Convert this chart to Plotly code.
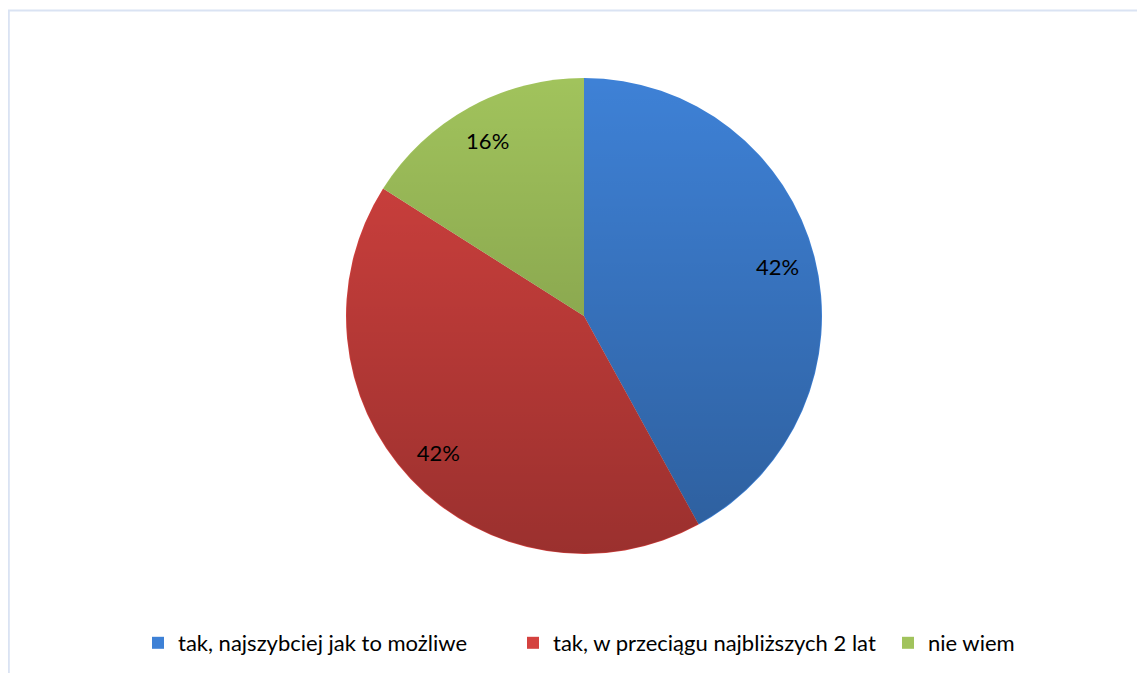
import base64
import plotly.graph_objects as go

labels = ["tak, najszybciej jak to możliwe", "tak, w przeciągu najbliższych 2 lat", "nie wiem"]
values = [42, 42, 16]
colors = ["#3e81d6", "#d4423f", "#a1c35c"]

W, H = 1145, 673
FONT = "Lato, Open Sans, sans-serif"
dom = dict(x=[338 / W, 814 / W], y=[1 - 546 / H, 1 - 70 / H])

fig = go.Figure()
# coloured pie
fig.add_trace(go.Pie(
    labels=labels, values=values, sort=False, direction="clockwise", rotation=0,
    marker=dict(colors=colors, line=dict(width=0)),
    textinfo="none", domain=dom, hoverinfo="label+percent",
))
# transparent ring carrying the percentage labels near the rim
fig.add_trace(go.Pie(
    labels=labels, values=values, sort=False, direction="clockwise", rotation=0,
    hole=0.68, showlegend=False,
    marker=dict(colors=["rgba(0,0,0,0)"] * len(values), line=dict(width=0)),
    texttemplate="%{percent:.0%}", textposition="inside", insidetextorientation="horizontal",
    textfont=dict(family=FONT, size=22, color="#000000"),
    domain=dom, hoverinfo="skip",
))

# vertical shading overlay (lighter top, darker bottom) like the original gradient fill
svg = (
    '<svg xmlns="http://www.w3.org/2000/svg" viewBox="0 0 100 100">'
    '<defs><linearGradient id="g" x1="0" y1="0" x2="0" y2="1">'
    '<stop offset="0" stop-color="#000" stop-opacity="0"/>'
    '<stop offset="1" stop-color="#000" stop-opacity="0.27"/>'
    '</linearGradient></defs>'
    '<circle cx="50" cy="50" r="49.85" fill="url(#g)"/></svg>'
)
src = "data:image/svg+xml;base64," + base64.b64encode(svg.encode()).decode()

fig.update_layout(
    width=W, height=H,
    margin=dict(l=0, r=0, t=0, b=0, autoexpand=False),
    paper_bgcolor="white", plot_bgcolor="white",
    showlegend=True,
    legend=dict(orientation="h", x=130 / W, xanchor="left", y=1 - 635 / H, yanchor="middle",
                font=dict(family=FONT, size=22, color="#000000"),
                entrywidth=330, itemwidth=30),
    images=[dict(source=src, xref="paper", yref="paper", x=dom["x"][0], y=dom["y"][1],
                 sizex=dom["x"][1] - dom["x"][0], sizey=dom["y"][1] - dom["y"][0],
                 sizing="stretch", xanchor="left", yanchor="top", layer="above")],
    shapes=[
        dict(type="line", xref="paper", yref="paper", x0=0.8 / W, x1=0.8 / W, y0=0, y1=1 - 2.5 / H,
             line=dict(color="#dae3f3", width=2)),
        dict(type="line", xref="paper", yref="paper", x0=0, x1=1, y0=1 - 2.5 / H, y1=1 - 2.5 / H,
             line=dict(color="#dae3f3", width=2)),
    ],
)

fig.write_html("out.html")
